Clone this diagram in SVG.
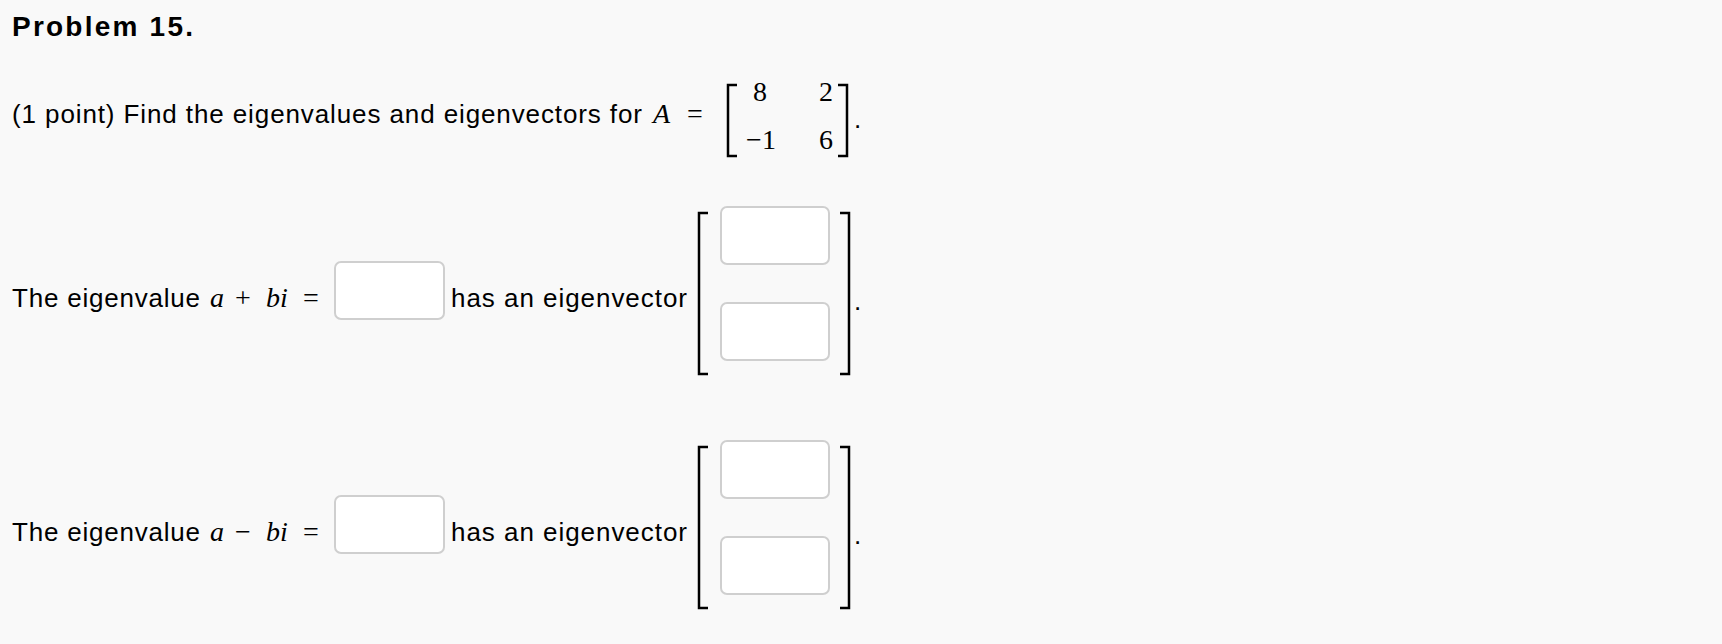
<svg xmlns="http://www.w3.org/2000/svg" width="1722" height="644" viewBox="0 0 1722 644">
<style>
.t{font-family:"Liberation Sans",Arial,sans-serif;font-size:26px;fill:#000}
.m{font-family:"Liberation Serif","Times New Roman",serif;font-size:28px;fill:#000}
.i{font-style:italic}
.br{fill:none;stroke:#000;stroke-width:2.5}
.box{fill:#fff;stroke:#cfcfcf;stroke-width:2}
</style>
<rect width="1722" height="644" fill="#f9f9f9"/>
<g id="title"><text x="12" y="36" class="t" style="font-weight:bold;font-size:28px" textLength="181">Problem 15.</text></g>
<g id="question">
<text x="12" y="123" class="t" textLength="630">(1 point) Find the eigenvalues and eigenvectors for</text>
<text x="653" y="123" class="m i">A</text>
<text x="687" y="123" class="m">=</text>
<path class="br" d="M737,85 H728 V156 H737 M838,85 H847 V156 H838"/>
<text x="760" y="101" class="m" text-anchor="middle">8</text>
<text x="826" y="101" class="m" text-anchor="middle">2</text>
<text x="761" y="149" class="m" text-anchor="middle">−1</text>
<text x="826" y="149" class="m" text-anchor="middle">6</text>
<text x="854" y="128" class="t">.</text>
</g>
<g id="row1">
<text x="12" y="307" class="t" textLength="188">The eigenvalue</text>
<text x="210" y="307" class="m i">a</text>
<text x="235" y="307" class="m">+</text>
<text x="266" y="307" class="m i">bi</text>
<text x="303" y="307" class="m">=</text>
<rect class="box" x="335" y="262" width="109" height="57" rx="6"/>
<text x="451" y="307" class="t" textLength="236">has an eigenvector</text>
<path class="br" d="M708,213 H699 V374 H708 M840,213 H849 V374 H840"/>
<rect class="box" x="721" y="207" width="108" height="57" rx="6"/>
<rect class="box" x="721" y="303" width="108" height="57" rx="6"/>
<text x="854" y="310" class="t">.</text>
</g>
<g id="row2">
<text x="12" y="541" class="t" textLength="188">The eigenvalue</text>
<text x="210" y="541" class="m i">a</text>
<text x="235" y="541" class="m">−</text>
<text x="266" y="541" class="m i">bi</text>
<text x="303" y="541" class="m">=</text>
<rect class="box" x="335" y="496" width="109" height="57" rx="6"/>
<text x="451" y="541" class="t" textLength="236">has an eigenvector</text>
<path class="br" d="M708,447 H699 V608 H708 M840,447 H849 V608 H840"/>
<rect class="box" x="721" y="441" width="108" height="57" rx="6"/>
<rect class="box" x="721" y="537" width="108" height="57" rx="6"/>
<text x="854" y="544" class="t">.</text>
</g>
<g id="connectors"/>
</svg>
